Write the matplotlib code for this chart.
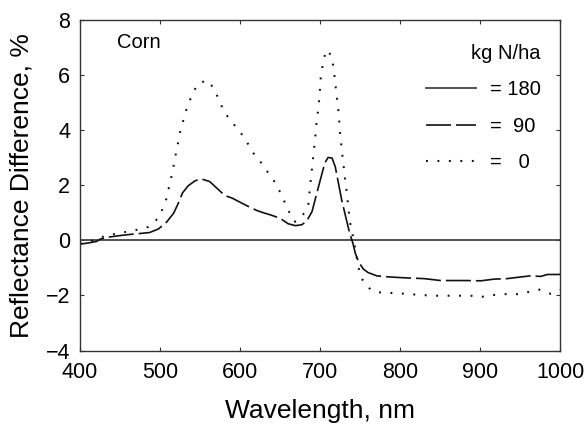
import matplotlib
matplotlib.use("Agg")
import matplotlib.pyplot as plt

plt.rcParams["font.family"] = ["Liberation Sans", "DejaVu Sans"]

# N rate = 180 kg/ha is the reference spectrum -> zero difference
wl_180 = [400, 1000]
diff_180 = [0.0, 0.0]

# N rate = 90 kg/ha
wl_90 = [400, 410, 421, 425, 437, 450, 462, 473, 487, 498, 508, 517, 523, 528,
         535, 544, 552, 562, 571, 581, 590, 598, 608, 621, 631, 637, 650, 660,
         669, 677, 683, 690, 696, 702, 706, 710, 715, 719, 723, 727, 732, 737,
         741, 744, 748, 754, 760, 771, 787, 805, 830, 851, 867, 884, 901, 917,
         934, 951, 963, 976, 984, 999, 1000]
diff_90 = [-0.14, -0.10, -0.04, 0.04, 0.12, 0.17, 0.21, 0.24, 0.28, 0.41, 0.65,
           0.98, 1.35, 1.71, 1.97, 2.16, 2.22, 2.13, 1.89, 1.62, 1.53, 1.41,
           1.26, 1.08, 0.98, 0.93, 0.80, 0.60, 0.53, 0.56, 0.68, 1.04, 1.71,
           2.37, 2.80, 3.00, 2.98, 2.67, 2.07, 1.47, 0.86, 0.26, -0.10, -0.46,
           -0.77, -1.04, -1.17, -1.29, -1.33, -1.36, -1.39, -1.46, -1.46, -1.46,
           -1.47, -1.41, -1.39, -1.33, -1.29, -1.31, -1.24, -1.24, -1.22]

# N rate = 0 kg/ha
wl_0 = [400, 412, 425, 437, 449, 461, 473, 485, 497, 503, 507.5, 510.4, 513.3,
        515.8, 518.3, 520.4, 522.9, 525, 528.4, 531.7, 535.8, 540.8, 547.1,
        558.8, 567.9, 572.9, 578.3, 585.4, 595.4, 604.6, 611.7, 618.8, 629.2,
        636.7, 645, 650.8, 656.3, 661.7, 668.8, 680.4, 685.4, 686.7, 687.9,
        689.2, 690.4, 691.7, 692.9, 694.2, 695, 696.7, 697.9, 699.2, 700,
        700.8, 702.5, 704.6, 707.9, 713.8, 716.3, 717.9, 719.2, 720.4, 722.1,
        723.3, 725, 726.3, 727.1, 729.2, 730, 731.7, 733.3, 734.6, 735.8,
        736.7, 739.6, 741.7, 743.8, 745.8, 747.9, 750.8, 757.5, 767, 780,
        792.5, 815.4, 840.4, 863.3, 888.3, 900.8, 913.3, 938.3, 950.8, 961.3,
        973.8, 982.1, 988.3, 996.7, 1000]
diff_0 = [-0.12, -0.05, 0.10, 0.19, 0.26, 0.32, 0.39, 0.48, 0.78, 1.12, 1.46,
          1.82, 2.17, 2.53, 2.89, 3.24, 3.58, 3.91, 4.27, 4.63, 4.97, 5.32,
          5.67, 5.80, 5.49, 5.13, 4.78, 4.44, 4.09, 3.75, 3.41, 3.06, 2.72,
          2.37, 2.05, 1.70, 1.35, 1.01, 0.67, 0.98, 1.31, 1.68, 2.04, 2.40,
          2.74, 3.09, 3.42, 3.78, 4.12, 4.46, 4.83, 5.17, 5.51, 5.86, 6.21,
          6.56, 6.90, 6.71, 6.35, 6.01, 5.65, 5.31, 4.95, 4.61, 3.91, 3.57,
          3.22, 2.86, 2.49, 2.13, 1.77, 1.41, 1.11, 0.74, 0.38, 0.04, -0.28,
          -0.61, -0.95, -1.31, -1.65, -1.86, -1.91, -1.91, -1.96, -2.01, -2.01,
          -2.01, -2.06, -1.99, -1.94, -1.96, -1.87, -1.79, -1.87, -1.94, -1.86,
          -1.80]

fig = plt.figure(figsize=(5.84, 4.25), dpi=100)
ax = fig.add_axes([0.137, 0.175, 0.822, 0.779])

h180, = ax.plot(wl_180, diff_180, color="#444444", lw=1.3, linestyle="-")
h90, = ax.plot(wl_90, diff_90, color="#111111", lw=1.2, dashes=(15, 3))
h0, = ax.plot(wl_0, diff_0, color="#111111", lw=1.5, dashes=(0.9, 4.6))

ax.set_xlim(400, 1000)
ax.set_ylim(-4, 8)
ax.set_xticks(range(400, 1001, 100))
ax.set_yticks(range(-4, 9, 2))
ax.tick_params(direction="in", length=3, width=0.8, top=True, right=True,
               labelsize=15.5, color="#333333")
ax.tick_params(axis="x", pad=8)
ax.tick_params(axis="y", pad=7)
for s in ax.spines.values():
    s.set_color("#333333")
    s.set_linewidth(1.0)

ax.set_xlabel("Wavelength, nm", fontsize=19, labelpad=12)
ax.set_ylabel("Reflectance Difference, %", fontsize=19, labelpad=9)

ax.text(0.077, 0.93, "Corn", transform=ax.transAxes, fontsize=14.5,
        ha="left", va="center")

leg = ax.legend([h180, h90, h0], ["= 180", "=  90", "=   0"],
                title="kg N/ha", title_fontsize=14.5, fontsize=14.5,
                loc="upper right", bbox_to_anchor=(0.96, 0.925),
                frameon=False, borderpad=0, borderaxespad=0,
                handlelength=2.5, handletextpad=0.7, labelspacing=0.85,
                alignment="right")

fig.savefig("out.png", dpi=100)
